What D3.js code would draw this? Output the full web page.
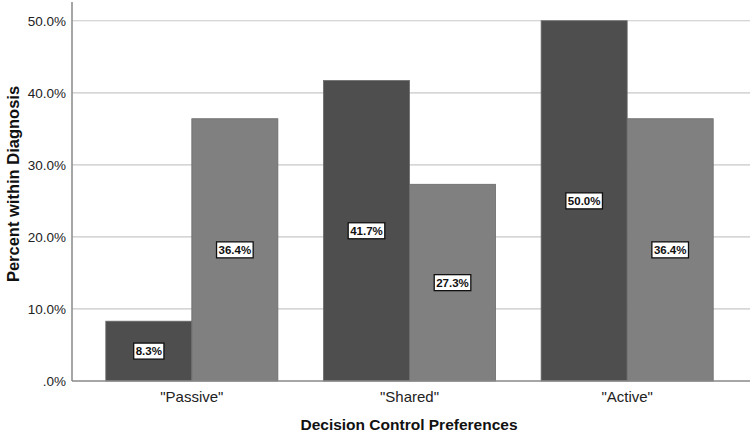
<!DOCTYPE html>
<html><head><meta charset="utf-8">
<script src="https://cdn.jsdelivr.net/npm/d3@7"></script>
<style>body{margin:0;background:#fff}svg{display:block}text{font-family:Arial,"Liberation Sans",sans-serif}</style>
</head><body>
<svg id="c" width="750" height="433"></svg>
<script>
const categories = ['"Passive"', '"Shared"', '"Active"'];
const seriesNames = ["Group 1", "Group 2"];
const series1 = [8.3, 41.7, 50.0];
const series2 = [36.4, 27.3, 36.4];
const yTicks = [0, 10, 20, 30, 40, 50];
const yTickLabels = [".0%", "10.0%", "20.0%", "30.0%", "40.0%", "50.0%"];
const colors = ["#4e4e4e", "#808080"];

(function () {
const svg = d3.select("#c");
const mLeft = 72, mRight = 750, mTop = 2, mBottom = 381;
const x = d3.scaleBand().domain(categories).range([83, 736]).paddingInner(0).paddingOuter(0);
const xs = d3.scaleBand().domain(seriesNames).range([0, x.bandwidth()]).paddingInner(0).paddingOuter(0.265);
const y = d3.scaleLinear().domain([0, 52.6]).range([mBottom, mTop]);

svg.append("g").selectAll("line").data(yTicks.filter(d => d > 0)).join("line")
  .attr("x1", mLeft).attr("x2", mRight).attr("y1", d => y(d)).attr("y2", d => y(d))
  .attr("stroke", "#c8c8c8").attr("stroke-width", 1.2);

const data = categories.map((c, i) => ({cat: c, vals: [series1[i], series2[i]]}));
const g = svg.append("g");
data.forEach(d => {
  d.vals.forEach((v, j) => {
    const bx = x(d.cat) + xs(seriesNames[j]);
    g.append("rect").attr("x", bx).attr("width", xs.bandwidth())
      .attr("y", y(v)).attr("height", y(0) - y(v))
      .attr("fill", colors[j]).attr("stroke", "#6a6a6a").attr("stroke-width", 0.8);
  });
});
data.forEach(d => {
  d.vals.forEach((v, j) => {
    const cx = x(d.cat) + xs(seriesNames[j]) + xs.bandwidth() / 2;
    const cy = (y(v) + y(0)) / 2;
    const lg = svg.append("g");
    const t = lg.append("text").attr("x", cx).attr("y", cy + 4.2).attr("text-anchor", "middle")
      .attr("font-size", 11.5).attr("font-weight", "bold").attr("fill", "#111")
      .text(v.toFixed(1) + "%");
    const tw = t.node().getComputedTextLength();
    lg.insert("rect", "text").attr("x", cx - tw / 2 - 2).attr("y", cy - 8).attr("width", tw + 4).attr("height", 16)
      .attr("fill", "#fff").attr("stroke", "#111").attr("stroke-width", 1.3);
  });
});

const yAxis = d3.axisLeft(y).tickValues(yTicks).tickFormat((d, i) => yTickLabels[i]).tickSize(0).tickPadding(6);
const ya = svg.append("g").attr("transform", `translate(${mLeft},0)`).call(yAxis);
ya.select(".domain").remove();
ya.selectAll("text").attr("font-size", 13.5).attr("fill", "#222").attr("font-family", "Arial, 'Liberation Sans', sans-serif");
svg.append("line").attr("x1", mLeft).attr("x2", mLeft).attr("y1", mTop).attr("y2", mBottom).attr("stroke", "#888").attr("stroke-width", 1.5);
svg.append("line").attr("x1", mLeft).attr("x2", mRight).attr("y1", mBottom).attr("y2", mBottom).attr("stroke", "#888").attr("stroke-width", 1.5);

const xAxis = d3.axisBottom(x).tickSize(0).tickPadding(10);
const xa = svg.append("g").attr("transform", `translate(0,${mBottom})`).call(xAxis);
xa.select(".domain").remove();
xa.selectAll("text").attr("font-size", 15).attr("fill", "#222").attr("font-family", "Arial, 'Liberation Sans', sans-serif");

svg.append("text").attr("x", 409).attr("y", 430).attr("text-anchor", "middle")
  .attr("font-size", 15.5).attr("font-weight", "bold").attr("fill", "#111").text("Decision Control Preferences");
svg.append("text").attr("transform", "translate(19,184) rotate(-90)").attr("text-anchor", "middle")
  .attr("font-size", 16.5).attr("font-weight", "bold").attr("fill", "#111").text("Percent within Diagnosis");
})();
</script>
</body></html>
